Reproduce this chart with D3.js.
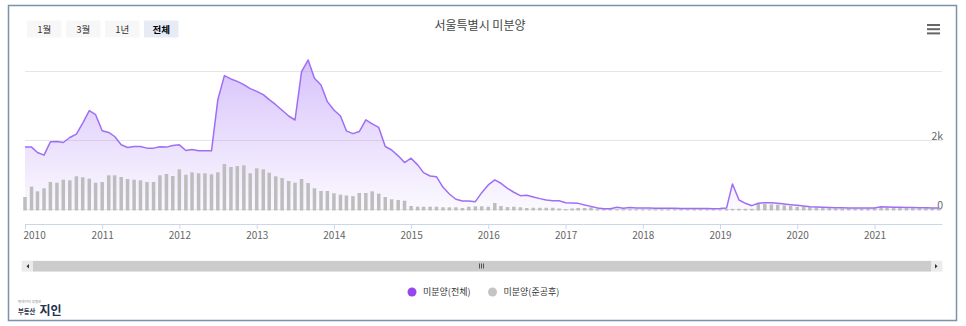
<!DOCTYPE html>
<html>
<head>
<meta charset="utf-8">
<script src="https://cdn.jsdelivr.net/npm/d3@7"></script>
<style>
  html, body { margin: 0; padding: 0; background: #fff; }
  svg { display: block; font-family: "Noto Sans CJK KR", "Noto Sans", sans-serif; }
</style>
</head>
<body>
<svg id="chart" width="966" height="326"></svg>
<script>
// Seoul unsold housing units, monthly from Jan 2010 to Nov 2021
const firstYear = 2010;
const unsoldTotal = [
  1808, 1808, 1651, 1575, 1962, 1971, 1942, 2087, 2186, 2506, 2863, 2747,   // 2010
  2282, 2233, 2116, 1875, 1797, 1826, 1826, 1779, 1779, 1817, 1808, 1855,   // 2011
  1875, 1709, 1738, 1700, 1700, 1700, 3183, 3880, 3784, 3715, 3620, 3503,   // 2012
  3425, 3328, 3183, 3038, 2875, 2710, 2594, 3995, 4333, 3803, 3610, 3126,   // 2013
  2884, 2710, 2280, 2200, 2260, 2600, 2480, 2380, 1826, 1725, 1555, 1361,   // 2014
  1488, 1294, 1070, 971, 951, 643, 449, 296, 246, 246, 227, 488,            // 2015
  712, 857, 760, 615, 500, 401, 412, 364, 315, 276, 255, 255,               // 2016
  198, 188, 178, 130, 91, 42, 25, 20, 64, 35, 55, 45,                       // 2017
  40, 40, 38, 35, 35, 33, 30, 30, 28, 27, 27, 25,                           // 2018
  27, 40, 741, 276, 180, 111, 180, 198, 198, 180, 160, 140,                 // 2019
  121, 101, 81, 72, 64, 55, 50, 50, 45, 45, 45, 45,                         // 2020
  45, 81, 72, 64, 64, 55, 55, 50, 50, 45, 45                                // 2021
];
const unsoldCompleted = [
  363, 662, 528, 615, 797, 777, 864, 846, 962, 933, 893, 777,               // 2010
  797, 991, 991, 942, 884, 864, 846, 797, 797, 991, 1029, 971,              // 2011
  1165, 1009, 1078, 1050, 1050, 1020, 1078, 1319, 1232, 1261, 1281, 1050,   // 2012
  1194, 1165, 1067, 962, 913, 826, 777, 884, 768, 614, 536, 536,            // 2013
  470, 429, 405, 387, 478, 478, 527, 459, 362, 296, 275, 255,               // 2014
  101, 81, 81, 81, 81, 64, 64, 64, 44, 81, 93, 93,                          // 2015
  81, 189, 101, 70, 81, 64, 44, 50, 50, 50, 50, 30,                         // 2016
  10, 30, 44, 44, 64, 10, 6, 6, 5, 5, 5, 5,                                 // 2017
  5, 5, 5, 5, 5, 5, 5, 5, 5, 5, 5, 5,                                       // 2018
  5, 15, 20, 20, 20, 20, 160, 160, 150, 140, 121, 101,                      // 2019
  81, 81, 64, 55, 40, 40, 30, 30, 30, 30, 30, 30,                           // 2020
  30, 64, 64, 55, 50, 40, 40, 35, 35, 30, 30                                // 2021
];
const yearLabels = ["2010","2011","2012","2013","2014","2015","2016","2017","2018","2019","2020","2021"];
const yTicks = [0, 2000, 4000];
const yTickLabels = ["0", "2k", ""];
const rangeButtons = ["1월", "3월", "1년", "전체"];
const selectedButton = 3;
const chartTitle = "서울특별시 미분양";
const seriesNames = ["미분양(전체)", "미분양(준공후)"];
const seriesColors = ["#9f6ef5", "#bdbdbd"];
const legendColors = ["#9447ef", "#c4c4c4"];

const svg = d3.select("#chart");
const plot = { left: 25, right: 942, top: 60, bottom: 209.5 };

const months = unsoldTotal.map((_, i) => d3.utcMonth.offset(new Date(Date.UTC(firstYear, 0, 1)), i));

const x = d3.scaleUtc()
  .domain([new Date(Date.UTC(firstYear, 0, 1)), new Date(Date.UTC(2021, 10, 16))])
  .range([plot.left, plot.right]);
const y = d3.scaleLinear().domain([0, 4000]).range([plot.bottom, 71.5]);

// frame
svg.append("rect")
  .attr("x", 8.5).attr("y", 5.5).attr("width", 948).attr("height", 315)
  .attr("fill", "#fff").attr("stroke", "#7b91ad").attr("stroke-width", 1.5);

// range selector buttons
const btn = svg.append("g").selectAll("g").data(rangeButtons).join("g")
  .attr("transform", (d, i) => `translate(${27 + i * 39},20.5)`);
btn.append("rect")
  .attr("width", 34.5).attr("height", 17).attr("rx", 1)
  .attr("fill", (d, i) => i === selectedButton ? "#e6ebf5" : "#f7f7f7");
btn.append("text")
  .attr("x", 17.25).attr("y", 12.2).attr("text-anchor", "middle")
  .attr("font-size", 9.5)
  .attr("font-weight", (d, i) => i === selectedButton ? "bold" : "normal")
  .attr("fill", (d, i) => i === selectedButton ? "#000" : "#333")
  .text(d => d);

// title
svg.append("text")
  .attr("x", 480).attr("y", 30).attr("text-anchor", "middle")
  .attr("font-size", 12).attr("fill", "#444")
  .text(chartTitle);

// context menu icon
svg.append("g").selectAll("line").data([0, 1, 2]).join("line")
  .attr("x1", 927).attr("x2", 940)
  .attr("y1", d => 25 + d * 4.2).attr("y2", d => 25 + d * 4.2)
  .attr("stroke", "#666").attr("stroke-width", 2);

// grid lines and y labels
svg.append("g").selectAll("line").data(yTicks).join("line")
  .attr("x1", plot.left).attr("x2", plot.right)
  .attr("y1", d => y(d)).attr("y2", d => y(d))
  .attr("stroke", "#e6e6e6").attr("stroke-width", 1);
svg.append("g").selectAll("text").data(yTicks).join("text")
  .attr("x", 943).attr("y", d => y(d) - 1)
  .attr("text-anchor", "end").attr("font-size", 10.5).attr("fill", "#666")
  .text((d, i) => yTickLabels[i]);

// area gradient
const defs = svg.append("defs");
const grad = defs.append("linearGradient").attr("id", "areaFill")
  .attr("gradientUnits", "userSpaceOnUse")
  .attr("x1", 0).attr("x2", 0).attr("y1", plot.top).attr("y2", plot.bottom);
grad.append("stop").attr("offset", 0).attr("stop-color", "#9f6ef5").attr("stop-opacity", 0.42);
grad.append("stop").attr("offset", 1).attr("stop-color", "#9f6ef5").attr("stop-opacity", 0.04);

const area = d3.area()
  .x((d, i) => x(months[i]))
  .y0(y(0))
  .y1(d => y(d));
svg.append("path").datum(unsoldTotal)
  .attr("d", area).attr("fill", "url(#areaFill)");

// completed-but-unsold columns
const barW = 3.5;
svg.append("g").selectAll("rect").data(unsoldCompleted).join("rect")
  .attr("x", (d, i) => x(months[i]) - barW / 2)
  .attr("y", d => y(d))
  .attr("width", barW)
  .attr("height", d => y(0) - y(d) + 1)
  .attr("fill", seriesColors[1]);

// total unsold line
const line = d3.line()
  .x((d, i) => x(months[i]))
  .y(d => y(d));
svg.append("path").datum(unsoldTotal)
  .attr("d", line).attr("fill", "none")
  .attr("stroke", seriesColors[0]).attr("stroke-width", 1.5)
  .attr("stroke-linejoin", "round");

// x axis (first label kept inside the plot edge)
const yearTicks = yearLabels.map(s => new Date(Date.UTC(+s, 0, 1)));
const xAxis = d3.axisBottom(x)
  .tickValues(yearTicks)
  .tickFormat((d, i) => yearLabels[i])
  .tickSize(5).tickSizeOuter(0);
const ax = svg.append("g").attr("transform", "translate(0,224)").call(xAxis);
ax.select(".domain").attr("stroke", "#ccd6eb");
ax.selectAll(".tick line").attr("stroke", "#ccd6eb");
ax.selectAll(".tick text")
  .attr("fill", "#666").attr("font-size", 10).attr("y", 8)
  .attr("font-family", "\"Noto Sans CJK KR\", \"Noto Sans\", sans-serif")
  .attr("text-anchor", (d, i) => i === 0 ? "start" : "middle")
  .attr("x", (d, i) => i === 0 ? -2 : 0);

// scrollbar
const sb = svg.append("g");
sb.append("rect").attr("x", 21.5).attr("y", 260.5).attr("width", 921).attr("height", 11)
  .attr("fill", "#f2f2f2");
sb.append("rect").attr("x", 33).attr("y", 261).attr("width", 898).attr("height", 10.5)
  .attr("fill", "#cccccc");
sb.append("rect").attr("x", 22).attr("y", 261).attr("width", 11).attr("height", 10.5)
  .attr("fill", "#ebebeb");
sb.append("rect").attr("x", 931).attr("y", 261).attr("width", 11).attr("height", 10.5)
  .attr("fill", "#ebebeb");
sb.append("path").attr("d", "M29,264 L29,268.5 L26.5,266.2 Z").attr("fill", "#333");
sb.append("path").attr("d", "M935,264 L935,268.5 L937.5,266.2 Z").attr("fill", "#333");
sb.append("g").selectAll("line").data([-2, 0, 2]).join("line")
  .attr("x1", d => 481.5 + d).attr("x2", d => 481.5 + d)
  .attr("y1", 263.5).attr("y2", 268.5)
  .attr("stroke", "#333").attr("stroke-width", 0.8);

// legend
const lg = svg.append("g").selectAll("g").data(seriesNames).join("g")
  .attr("transform", (d, i) => `translate(${i === 0 ? 412 : 492.5},292)`);
lg.append("circle").attr("r", 4.5).attr("fill", (d, i) => legendColors[i]);
lg.append("text").attr("x", 11).attr("y", 3.3)
  .attr("font-size", 9).attr("fill", "#333")
  .text(d => d);

// brand mark
const brand = svg.append("g");
brand.append("text").attr("x", 18).attr("y", 303)
  .attr("font-size", 3.5).attr("fill", "#888").text("빅데이터 부동산");
brand.append("text").attr("x", 18).attr("y", 313.5)
  .attr("font-size", 6.3).attr("font-weight", "bold").attr("fill", "#2b3448").text("부동산");
brand.append("text").attr("x", 39.5).attr("y", 315)
  .attr("font-size", 12).attr("font-weight", "bold").attr("fill", "#26324d").text("지인");
</script>
</body>
</html>
